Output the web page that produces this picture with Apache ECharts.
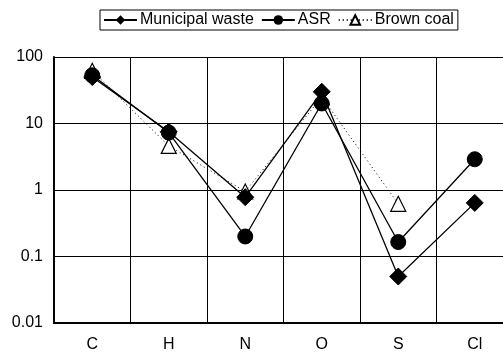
<!DOCTYPE html>
<html><head><meta charset="utf-8">
<script src="https://cdn.jsdelivr.net/npm/echarts@6/dist/echarts.min.js"></script>
<style>html,body{margin:0;padding:0;background:#fff}#c{width:503px;height:352px}</style>
</head><body><div id="c"></div>
<script>
var categories = ['C', 'H', 'N', 'O', 'S', 'Cl'];
var municipalWaste = [50, 7.5, 0.78, 30, 0.05, 0.64];
var asr = [53, 7.3, 0.2, 20, 0.165, 2.9];
var brownCoal = [62, 4.6, 0.95, 25, 0.62, null];
var yTicks = [0.01, 0.1, 1, 10, 100];

var font = 'Liberation Sans, Arial, sans-serif';
var chart = echarts.init(document.getElementById('c'), null, {renderer: 'canvas'});
chart.setOption({
  animation: false,
  backgroundColor: '#fff',
  textStyle: {fontFamily: font},
  legend: {
    data: ['Municipal waste', 'ASR', 'Brown coal'],
    left: 100, top: 10,
    itemWidth: 33, itemHeight: 12, itemGap: 7,
    padding: [2, 4, 2, 3],
    borderColor: '#000', borderWidth: 1,
    backgroundColor: '#fff',
    textStyle: {fontFamily: font, fontSize: 16, color: '#000', padding: [0, 0, 0, -2]}
  },
  grid: {left: 54, top: 57, bottom: 29, width: 459, containLabel: false, outerBoundsMode: 'none'},
  xAxis: {
    type: 'category', data: categories, boundaryGap: true,
    axisLine: {lineStyle: {color: '#000', width: 2}},
    axisTick: {show: false},
    axisLabel: {color: '#000', fontSize: 16, margin: 14, fontFamily: font},
    splitLine: {show: true, interval: 0, lineStyle: {color: '#000', width: 1}}
  },
  yAxis: {
    type: 'log', logBase: 10, min: yTicks[0], max: yTicks[yTicks.length - 1],
    name: 'wt%', nameLocation: 'middle', nameRotate: 90, nameGap: 35,
    nameTextStyle: {color: '#000', fontSize: 16, fontWeight: 'bold', fontFamily: font},
    axisLine: {show: true, lineStyle: {color: '#000', width: 2}},
    axisTick: {show: false},
    axisLabel: {color: '#000', fontSize: 16, margin: 11, fontFamily: font,
      formatter: function (v) { return String(+v.toPrecision(6)); }},
    splitLine: {show: true, lineStyle: {color: '#000', width: 1}}
  },
  series: [
    {name: 'Brown coal', type: 'line', data: brownCoal, symbol: 'triangle', symbolSize: [15, 15],
      connectNulls: false,
      lineStyle: {color: '#000', width: 1, type: [1, 3]},
      itemStyle: {color: '#fff', borderColor: '#000', borderWidth: 1.2}, z: 2},
    {name: 'Municipal waste', type: 'line', data: municipalWaste, symbol: 'diamond', symbolSize: 17,
      lineStyle: {color: '#000', width: 1.3},
      itemStyle: {color: '#000', borderColor: '#000'}, z: 3},
    {name: 'ASR', type: 'line', data: asr, symbol: 'circle', symbolSize: 15,
      lineStyle: {color: '#000', width: 1.3},
      itemStyle: {color: '#000', borderColor: '#000'}, z: 4}
  ]
});
</script></body></html>
